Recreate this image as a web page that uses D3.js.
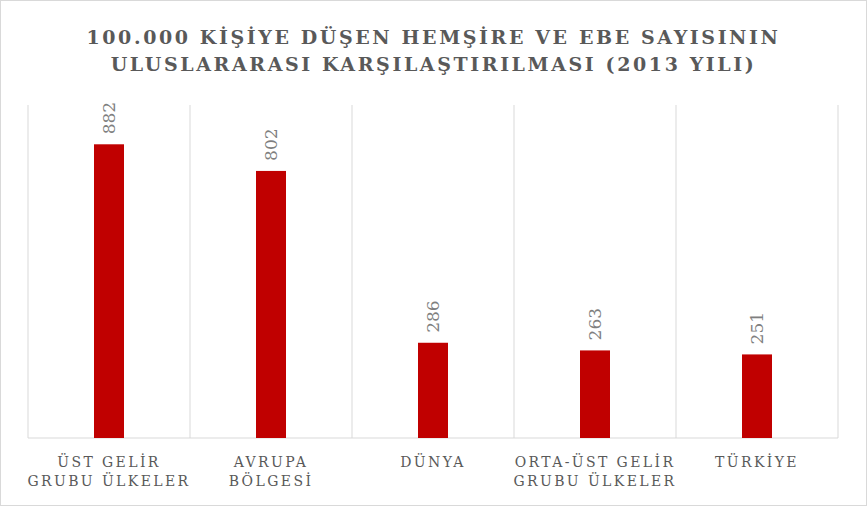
<!DOCTYPE html>
<html><head><meta charset="utf-8">
<script src="https://cdn.jsdelivr.net/npm/d3@7"></script>
<style>
body{margin:0;background:#fff;}
text{font-family:"DejaVu Serif","Liberation Serif",serif;}
</style></head>
<body><div id="chart"></div>
<script>
const categories = [["ÜST GELİR","GRUBU ÜLKELER"],["AVRUPA","BÖLGESİ"],["DÜNYA"],["ORTA-ÜST GELİR","GRUBU ÜLKELER"],["TÜRKİYE"]];
const values = [882, 802, 286, 263, 251];
const titleLines = ["100.000 KİŞİYE DÜŞEN HEMŞİRE VE EBE SAYISININ","ULUSLARARASI KARŞILAŞTIRILMASI (2013 YILI)"];

const W = 867, H = 506;
const margin = {top:105, right:29, bottom:68, left:28};
const width = W - margin.left - margin.right, height = H - margin.top - margin.bottom;

const svg = d3.select("#chart").append("svg").attr("width", W).attr("height", H);
svg.append("rect").attr("x",0.5).attr("y",0.5).attr("width",W-1).attr("height",H-1)
  .attr("fill","#fff").attr("stroke","#d9d9d9");

svg.selectAll(".title").data(titleLines).enter().append("text")
  .attr("x", W/2).attr("y", (d,i) => 44 + i*27)
  .attr("text-anchor","middle").attr("fill","#595959")
  .style("font-size","19px").style("font-weight","bold").style("letter-spacing","2.6px")
  .text(d => d);

const g = svg.append("g").attr("transform", `translate(${margin.left},${margin.top})`);
const x = d3.scaleBand().domain(d3.range(values.length)).range([0, width]);
const y = d3.scaleLinear().domain([0, 1000]).range([height, 0]);

g.selectAll(".grid").data(d3.range(values.length + 1)).enter().append("line")
  .attr("x1", i => i * x.step()).attr("x2", i => i * x.step())
  .attr("y1", 0).attr("y2", height).attr("stroke","#d9d9d9");
g.append("line").attr("x1",0).attr("x2",width).attr("y1",height).attr("y2",height).attr("stroke","#d9d9d9");

const bw = 30;
g.selectAll(".bar").data(values).enter().append("rect")
  .attr("x", (d,i) => x(i) + x.bandwidth()/2 - bw/2)
  .attr("y", d => y(d)).attr("width", bw).attr("height", d => height - y(d))
  .attr("fill","#c00000");

g.selectAll(".val").data(values).enter().append("text")
  .attr("transform", (d,i) => `translate(${x(i) + x.bandwidth()/2 + 6},${y(d) - 10}) rotate(-90)`)
  .attr("fill","#7f7f7f").style("font-size","17px")
  .text(d => d);

categories.forEach((lines, i) => {
  g.append("text").attr("x", x(i) + x.bandwidth()/2).attr("y", height + 29)
    .attr("text-anchor","middle").attr("fill","#595959")
    .style("font-size","14px").style("letter-spacing","2.4px")
    .selectAll("tspan").data(lines).enter().append("tspan")
    .attr("x", x(i) + x.bandwidth()/2).attr("dy", (d,j) => j ? 19 : 0).text(d => d);
});
</script></body></html>
